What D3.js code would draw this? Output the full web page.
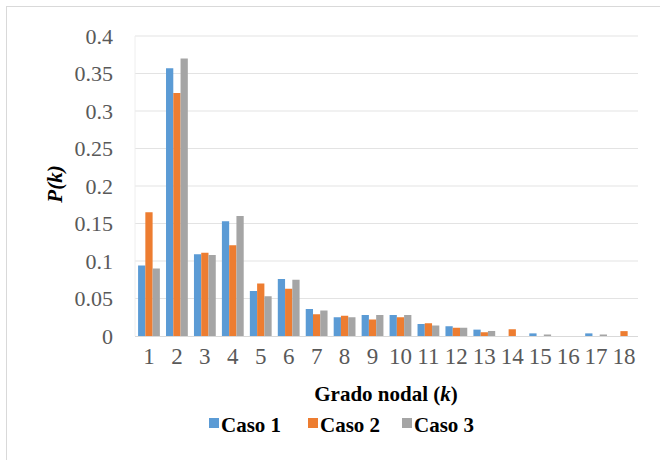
<!DOCTYPE html>
<html><head><meta charset="utf-8">
<script src="https://cdn.jsdelivr.net/npm/d3@7"></script>
<style>html,body{margin:0;padding:0;background:#fff;}svg{display:block;}</style>
</head><body>
<script>
const categories = ["1","2","3","4","5","6","7","8","9","10","11","12","13","14","15","16","17","18"];
const seriesNames = ["Caso 1","Caso 2","Caso 3"];
const caso1 = [0.094,0.357,0.109,0.153,0.060,0.076,0.036,0.025,0.028,0.028,0.016,0.013,0.0085,0,0.0035,0,0.0035,0];
const caso2 = [0.165,0.324,0.111,0.121,0.070,0.063,0.029,0.027,0.022,0.025,0.017,0.011,0.005,0.009,0,0,0,0.0065];
const caso3 = [0.090,0.370,0.108,0.160,0.053,0.075,0.034,0.025,0.028,0.028,0.014,0.011,0.0067,0,0.002,0,0.002,0];
const yTicks = [0,0.05,0.1,0.15,0.2,0.25,0.3,0.35,0.4];
const colors = ["#5B9BD5","#ED7D31","#A5A5A5"];

(function () {
const FONT = "'Liberation Serif', monospace";
const W = 660, H = 460;
const svg = d3.select("body").append("svg").attr("width", W).attr("height", H);
svg.append("rect").attr("x", 6.5).attr("y", 6.5).attr("width", W).attr("height", H)
  .attr("fill", "#fff").attr("stroke", "#d9d9d9");

const pLeft = 135, pRight = 638, pTop = 36, pBottom = 336;
const x = d3.scaleBand().domain(categories).range([pLeft, pRight]).paddingInner(0.22).paddingOuter(0.11);
const xs = d3.scaleBand().domain(seriesNames).range([0, x.bandwidth()]);
const y = d3.scaleLinear().domain([0, 0.4]).range([pBottom, pTop]);

svg.append("g").selectAll("line").data(yTicks.filter(d => d > 0)).join("line")
  .attr("x1", pLeft).attr("x2", pRight).attr("y1", d => y(d)).attr("y2", d => y(d))
  .attr("stroke", "#e3e3e3").attr("stroke-width", 1.2);
svg.append("line").attr("x1", pLeft).attr("x2", pLeft).attr("y1", pTop).attr("y2", pBottom)
  .attr("stroke", "#eeeeee");

const series = [caso1, caso2, caso3];
series.forEach((vals, si) => {
  svg.append("g").selectAll("rect").data(vals).join("rect")
    .attr("x", (d, i) => x(categories[i]) + xs(seriesNames[si]))
    .attr("width", xs.bandwidth())
    .attr("y", d => y(d))
    .attr("height", d => y(0) - y(d))
    .attr("fill", colors[si]);
});

svg.append("line").attr("x1", pLeft).attr("x2", pRight).attr("y1", pBottom + 0.5).attr("y2", pBottom + 0.5)
  .attr("stroke", "#d9d9d9").attr("stroke-width", 1.2);

const yAxis = d3.axisLeft(y).tickValues(yTicks).tickSize(0).tickPadding(22)
  .tickFormat(d => String(+d.toFixed(2)));
const gy = svg.append("g").attr("transform", `translate(${pLeft},0)`).call(yAxis);
gy.select(".domain").remove();
gy.selectAll("text").style("font-family", FONT).style("font-size", "22px").attr("fill", "#595959");

const xAxis = d3.axisBottom(x).tickSize(0).tickPadding(12);
const gx = svg.append("g").attr("transform", `translate(0,${pBottom})`).call(xAxis);
gx.select(".domain").remove();
gx.selectAll("text").style("font-family", FONT).style("font-size", "23px").attr("fill", "#595959");

const yt = svg.append("text").attr("transform", "translate(62,184) rotate(-90)")
  .attr("text-anchor", "middle")
  .style("font-family", FONT).style("font-size", "21px").style("font-weight", "bold").attr("fill", "#000");
yt.append("tspan").style("font-style", "italic").text("P(k)");

const xt = svg.append("text").attr("x", 386).attr("y", 401)
  .attr("text-anchor", "middle")
  .style("font-family", FONT).style("font-size", "21px").style("font-weight", "bold").attr("fill", "#000");
xt.append("tspan").text("Grado nodal (");
xt.append("tspan").style("font-style", "italic").text("k");
xt.append("tspan").text(")");

const legX = [209, 308, 402];
const leg = svg.append("g");
seriesNames.forEach((n, i) => {
  leg.append("rect").attr("x", legX[i]).attr("y", 418).attr("width", 10).attr("height", 10).attr("fill", colors[i]);
  leg.append("text").attr("x", legX[i] + 12).attr("y", 432)
    .style("font-family", FONT).style("font-size", "21px")
    .style("font-weight", "bold").attr("fill", "#000").text(n);
});
})();
</script>
</body></html>
